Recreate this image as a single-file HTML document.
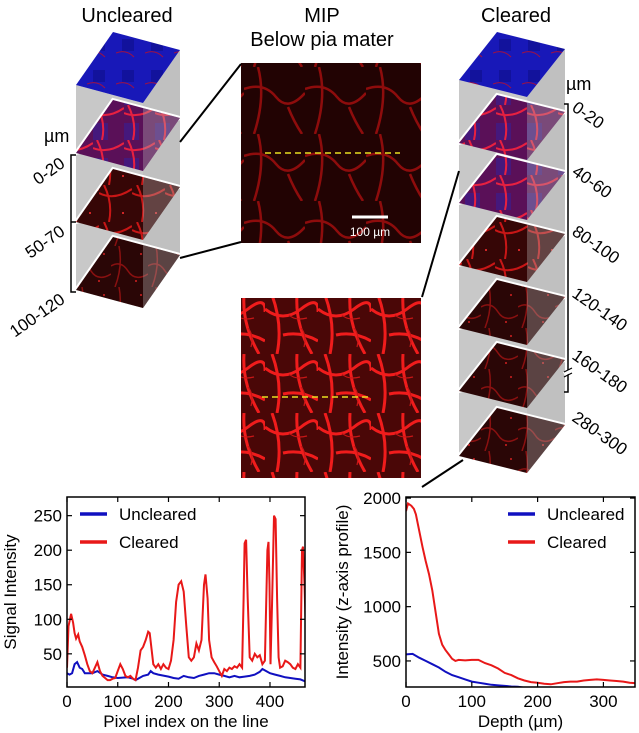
<!DOCTYPE html>
<html><head><meta charset="utf-8">
<style>
html,body{margin:0;padding:0;background:#fff;}
svg{display:block;font-family:"Liberation Sans",Arial,sans-serif;}
</style></head>
<body>
<svg id="fig" width="639" height="733" viewBox="0 0 639 733" xmlns="http://www.w3.org/2000/svg">
<defs>
  <pattern id="texDark" patternUnits="userSpaceOnUse" width="37" height="41">
    <rect width="37" height="41" fill="#2a0606"/>
    <path d="M0 20 Q10 14 17 25 T37 28 M8 0 Q12 20 4 41" stroke="#8a1010" stroke-width="1.5" fill="none"/>
    <circle cx="25" cy="35" r="1" fill="#d02020"/><circle cx="30" cy="8" r="1" fill="#d02020"/>
  </pattern>
  <pattern id="texMid" patternUnits="userSpaceOnUse" width="33" height="37">
    <rect width="33" height="37" fill="#360606"/>
    <path d="M0 8 Q15 16 33 4 M5 0 Q14 18 10 37" stroke="#c81616" stroke-width="2" fill="none"/>
    <circle cx="24" cy="28" r="1" fill="#ff3030"/>
  </pattern>
  <pattern id="texBlue" patternUnits="userSpaceOnUse" width="29" height="31">
    <rect width="29" height="31" fill="#1818b8"/>
    <rect x="6" y="8" width="12" height="12" fill="#0c0c80" opacity="0.5"/>
    <path d="M0 22 Q10 18 18 26" stroke="#a01040" stroke-width="1" fill="none"/>
  </pattern>
  <pattern id="texPurple" patternUnits="userSpaceOnUse" width="31" height="35">
    <rect width="31" height="35" fill="#5a1058"/>
    <rect x="0" y="18" width="15" height="17" fill="#3020a0" opacity="0.5"/>
    <path d="M0 8 Q15 14 31 3 M4 0 Q13 18 9 35" stroke="#e82040" stroke-width="2" fill="none"/>
  </pattern>
  <pattern id="mipTop" patternUnits="userSpaceOnUse" width="61" height="67">
    <rect width="61" height="67" fill="#220303"/>
    <path d="M0 22 Q20 15 32 30 T61 26 M14 0 Q22 30 10 67 M44 40 Q50 55 58 67" stroke="#8e0c0c" stroke-width="2.5" fill="none"/>
  </pattern>
  <pattern id="mipBot" patternUnits="userSpaceOnUse" width="53" height="59">
    <rect width="53" height="59" fill="#4a0707"/>
    <path d="M0 14 Q18 28 36 14 T53 17 M7 0 Q18 30 12 59 M32 0 Q30 30 47 59 M18 40 Q36 36 53 46" stroke="#f01c1c" stroke-width="3" fill="none"/>
    <path d="M24 20 Q30 26 42 23 M36 33 Q42 40 39 52" stroke="#c81616" stroke-width="1.2" fill="none"/>
  </pattern>
</defs>

<text x="127" y="22" font-size="20" text-anchor="middle">Uncleared</text>
<text x="322" y="22" font-size="20" text-anchor="middle">MIP</text>
<text x="322" y="46" font-size="20" text-anchor="middle">Below pia mater</text>
<text x="516" y="22" font-size="20" text-anchor="middle">Cleared</text>

<g id="leftStack"></g>
<g id="rightStack"></g>

<rect x="241" y="63" width="180" height="180" fill="url(#mipTop)"/>
<line x1="265" y1="153" x2="400" y2="153" stroke="#e8e020" stroke-width="1.5" stroke-dasharray="6,4"/>
<line x1="352" y1="217" x2="388" y2="217" stroke="#fff" stroke-width="3"/>
<text x="370" y="236" font-size="12" fill="#fff" text-anchor="middle">100 µm</text>
<rect x="241" y="298" width="180" height="180" fill="url(#mipBot)"/>
<line x1="262" y1="397" x2="372" y2="397" stroke="#e8e020" stroke-width="1.5" stroke-dasharray="6,4"/>

<g stroke="#000" stroke-width="2">
<line x1="180" y1="142" x2="241" y2="64"/>
<line x1="180" y1="258" x2="241" y2="242"/>
<line x1="459" y1="171" x2="422" y2="297"/>
<line x1="422" y1="487" x2="463" y2="460"/>
</g>

<text x="44" y="142" font-size="18">µm</text>
<path d="M76 155 H71 V292 H76" stroke="#000" stroke-width="1.5" fill="none"/>
<line x1="71" y1="222" x2="76" y2="222" stroke="#000" stroke-width="1.5"/>
<text transform="translate(66,166) rotate(-35)" font-size="17" text-anchor="end">0-20</text>
<text transform="translate(66,234) rotate(-35)" font-size="17" text-anchor="end">50-70</text>
<text transform="translate(66,302) rotate(-35)" font-size="17" text-anchor="end">100-120</text>

<text x="566" y="90" font-size="18">µm</text>
<path d="M564 104 H568 V392 H564" stroke="#000" stroke-width="1.5" fill="none"/>
<g stroke="#fff" stroke-width="4"><line x1="564" y1="374" x2="572" y2="370"/></g>
<g stroke="#000" stroke-width="1.2"><line x1="564" y1="372" x2="572" y2="368"/><line x1="564" y1="377" x2="572" y2="373"/></g>
<g font-size="17">
<text transform="translate(571,110) rotate(35)">0-20</text>
<text transform="translate(571,174) rotate(35)">40-60</text>
<text transform="translate(571,234) rotate(35)">80-100</text>
<text transform="translate(571,296) rotate(35)">120-140</text>
<text transform="translate(571,358) rotate(35)">160-180</text>
<text transform="translate(571,420) rotate(35)">280-300</text>
</g>

<g id="chart1"></g>
<g id="chart2"></g>
</svg>

<script>
// ---- Chart 1 data: Signal intensity along line ----
const c1Xticks = [0, 100, 200, 300, 400];
const c1Yticks = [50, 100, 150, 200, 250];
const c1ClearedX = [0,3,8,12,15,18,22,25,30,35,40,45,50,55,60,65,70,75,80,85,90,95,100,105,110,115,120,125,130,135,140,145,150,155,160,163,167,170,175,180,185,190,195,200,205,210,215,220,225,230,235,240,245,250,255,260,265,270,273,277,280,285,290,295,300,305,310,315,320,325,330,335,340,345,348,350,353,356,360,365,370,375,380,385,390,395,397,399,401,404,408,411,414,417,420,425,430,435,440,445,450,455,460,463,465,468,470];
const c1ClearedY = [30,90,108,95,80,72,78,68,60,48,35,25,22,30,38,25,18,15,12,12,14,15,25,35,28,18,16,18,14,12,30,55,60,70,82,80,55,35,30,35,28,35,30,28,40,70,125,150,155,140,90,45,40,45,65,55,70,150,165,130,70,45,38,32,25,18,28,25,30,28,32,30,35,30,130,210,215,130,45,40,50,45,48,35,40,200,212,150,35,120,250,245,130,45,30,32,40,38,35,30,28,35,30,200,205,150,100];
const c1UnclearedX = [0,5,10,15,20,25,30,35,40,50,60,70,80,90,100,120,130,135,140,150,160,165,170,180,200,210,220,230,240,250,260,270,280,290,300,310,320,330,340,350,360,370,380,385,390,400,410,420,430,440,450,460,470];
const c1UnclearedY = [22,20,22,35,38,30,28,22,22,22,25,20,18,16,15,16,14,12,14,18,20,25,22,20,17,15,14,18,16,15,18,20,22,22,20,18,16,18,16,17,18,20,24,28,26,22,20,18,16,15,14,13,10];

// ---- Chart 2 data: z-axis profile ----
const c2Xticks = [0, 100, 200, 300];
const c2Yticks = [500, 1000, 1500, 2000];
const c2ClearedX = [0,3,8,12,15,20,25,30,35,40,45,50,55,60,65,70,75,80,90,100,110,120,130,140,150,160,170,180,190,200,210,220,230,240,250,260,270,280,290,300,310,320,330,340,350];
const c2ClearedY = [1880,1950,1930,1900,1850,1700,1550,1420,1300,1150,950,750,650,600,560,520,500,510,505,510,510,480,460,430,390,370,340,320,305,300,290,285,295,305,310,310,320,325,330,325,320,315,310,300,295];
const c2UnclearedX = [0,10,20,30,40,50,60,70,80,90,100,110,120,130,140,150,160,170,175,185];
const c2UnclearedY = [560,565,530,500,470,440,400,370,350,330,310,300,290,280,275,270,265,262,258,250];

const NS = "http://www.w3.org/2000/svg";
function mk(tag, attrs, parent){ const e=document.createElementNS(NS,tag); for(const k in attrs) e.setAttribute(k,attrs[k]); parent.appendChild(e); return e; }

function stack(g, lx, ly, a, b, slices, colH, fills){
  const rx=lx+a[0]+b[0], bx=lx+b[0], by=ly+b[1], ry=ly+a[1]+b[1], tx=lx+a[0], ty=ly+a[1];
  const col = mk('polygon',{points:`${lx},${ly} ${bx},${by} ${bx},${by+colH} ${lx},${ly+colH}`,fill:'#c8c8c8'},g);
  
  
  const col2 = mk('polygon',{points:`${bx},${by} ${rx},${ry} ${rx},${ry+colH} ${bx},${by+colH}`,fill:'#c0c0c0'},g);
  
  
  // intersection of edge T-R with x=bx
  const t=(bx-tx)/(rx-tx), iy=ty+t*(ry-ty);
  slices.forEach((sy,i)=>{
    const dy = sy-ly;
    if(i>0) mk('polygon',{points:`${lx},${sy} ${tx},${ty+dy} ${rx},${ry+dy}`,fill:'none',stroke:'#fff','stroke-width':4},g);
    const p = mk('polygon',{points:`${lx},${sy} ${tx},${ty+dy} ${rx},${ry+dy} ${bx},${by+dy}`,fill:fills[i]},g);
    
    
    if(i>0) mk('polygon',{points:`${bx},${iy+dy} ${rx},${ry+dy} ${bx},${by+dy}`,fill:'#b8b8b8',opacity:0.35},g);
  });
}
stack(document.getElementById('leftStack'),76,85,[37,-53],[67,18],[85,153,222,290],205,
  ['url(#texBlue)','url(#texPurple)','url(#texMid)','url(#texDark)']);
stack(document.getElementById('rightStack'),459,80,[38,-48],[68,17],[80,143,203,265,328,391,456],376,
  ['url(#texBlue)','url(#texPurple)','url(#texPurple)','url(#texMid)','url(#texDark)','url(#texDark)','url(#texDark)']);

function chart(g, box, xd, yd, xticks, yticks, series, xlabel, ylabel, ylabX, legX){
  const sx=v=>box.x0+(v-xd[0])/(xd[1]-xd[0])*(box.x1-box.x0);
  const sy=v=>box.y1-(v-yd[0])/(yd[1]-yd[0])*(box.y1-box.y0);
  const cid='clip'+Math.round(box.x0);
  const cp=mk('clipPath',{id:cid},g); mk('rect',{x:box.x0,y:box.y0,width:box.x1-box.x0,height:box.y1-box.y0},cp);
  series.forEach(s=>{
    const d=s.x.map((v,i)=>(i?'L':'M')+sx(v).toFixed(1)+' '+sy(s.y[i]).toFixed(1)).join(' ');
    const p=mk('path',{d:d,fill:'none',stroke:s.c,'stroke-width':2,'clip-path':`url(#${cid})`},g);
    
    
  });
  const frame=mk('rect',{x:box.x0,y:box.y0,width:box.x1-box.x0,height:box.y1-box.y0,fill:'none',stroke:'#000','stroke-width':1.5},g);
  
  
  xticks.forEach(t=>{
    const x=sx(t);
    mk('line',{x1:x,y1:box.y1,x2:x,y2:box.y1-5,stroke:'#000','stroke-width':1.2},g);
    mk('line',{x1:x,y1:box.y0,x2:x,y2:box.y0+5,stroke:'#000','stroke-width':1.2},g);
    const tx=mk('text',{x:x,y:box.y1+20,'font-size':17,'text-anchor':'middle'},g); tx.textContent=t;
    
    
  });
  yticks.forEach(t=>{
    const y=sy(t);
    mk('line',{x1:box.x0,y1:y,x2:box.x0+5,y2:y,stroke:'#000','stroke-width':1.2},g);
    mk('line',{x1:box.x1,y1:y,x2:box.x1-5,y2:y,stroke:'#000','stroke-width':1.2},g);
    const ty=mk('text',{x:box.x0-5,y:y+6,'font-size':17,'text-anchor':'end'},g); ty.textContent=t;
    
    
  });
  const xl=mk('text',{x:(box.x0+box.x1)/2,y:box.y1+40,'font-size':17,'text-anchor':'middle'},g); xl.textContent=xlabel;
  
  
  const yc=(box.y0+box.y1)/2;
  const yl=mk('text',{x:ylabX,y:yc,'font-size':17,'text-anchor':'middle',transform:`rotate(-90 ${ylabX} ${yc})`},g); yl.textContent=ylabel;
  
  
  [['Uncleared','#1010c0',514],['Cleared','#e81818',542]].forEach(l=>{
    const ll=mk('line',{x1:legX,y1:l[2],x2:legX+27,y2:l[2],stroke:l[1],'stroke-width':3.5},g);
    
    
    const lt=mk('text',{x:legX+39,y:l[2]+6,'font-size':17},g); lt.textContent=l[0];
    
    
  });
}
chart(document.getElementById('chart1'),{x0:67,x1:305,y0:497,y1:687},[0,469],[2,277],c1Xticks,c1Yticks,
  [{x:c1UnclearedX,y:c1UnclearedY,c:'#1010c0',name:'uncleared-line'},{x:c1ClearedX,y:c1ClearedY,c:'#e81818',name:'cleared-line'}],
  'Pixel index on the line','Signal Intensity',16,80);
chart(document.getElementById('chart2'),{x0:406,x1:635,y0:497,y1:687},[0,348],[260,2010],c2Xticks,c2Yticks,
  [{x:c2UnclearedX,y:c2UnclearedY,c:'#1010c0',name:'uncleared-line'},{x:c2ClearedX,y:c2ClearedY,c:'#e81818',name:'cleared-line'}],
  'Depth (µm)','Intensity (z-axis profile)',348,508);
</script>
</body></html>
